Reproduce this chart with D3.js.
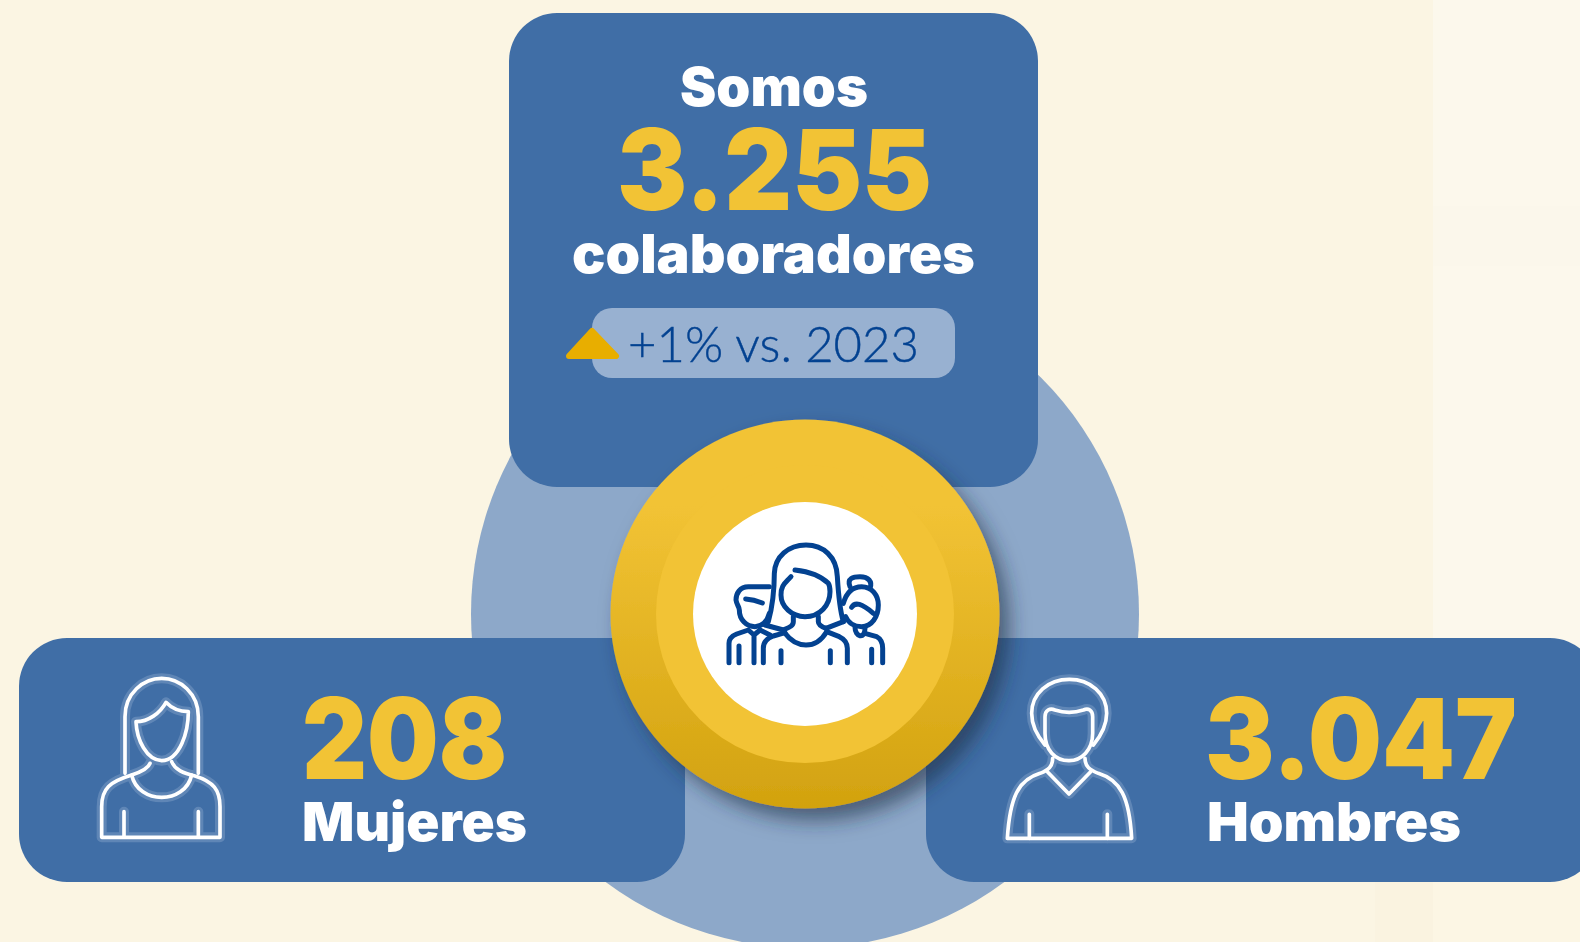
<!DOCTYPE html>
<html>
<head>
<meta charset="utf-8">
<script src="https://cdn.jsdelivr.net/npm/d3@7"></script>
<style>
  html, body { margin: 0; padding: 0; background: #FBF5E3; overflow: hidden; }
</style>
</head>
<body>
<div id="chart"></div>
<script>
const totalIntro = "Somos";
const totalValue = "3.255";
const totalUnit = "colaboradores";
const changeLabel = "+1% vs. 2023";
const genderLabels = ["Mujeres", "Hombres"];
const genderValues = ["208", "3.047"];

const width = 1580, height = 942;
const blue = "#406EA6", yellow = "#F2C335", navy = "#034291";

const svg = d3.select("#chart").append("svg")
    .attr("width", width)
    .attr("height", height)
    .style("display", "block");

const defs = svg.append("defs");

const goldOuter = defs.append("linearGradient").attr("id", "goldOuter")
    .attr("x1", 0).attr("y1", 0).attr("x2", 0).attr("y2", 1);
goldOuter.append("stop").attr("offset", "22%").attr("stop-color", "#F2C335");
goldOuter.append("stop").attr("offset", "100%").attr("stop-color", "#D2A20F");

const shadow = defs.append("filter").attr("id", "shadow")
    .attr("x", "-30%").attr("y", "-30%").attr("width", "160%").attr("height", "160%");
shadow.append("feDropShadow")
    .attr("dx", 10).attr("dy", 12).attr("stdDeviation", 10)
    .attr("flood-color", "#1d2b40").attr("flood-opacity", 0.6);

// faint paper patches on the right
svg.append("rect").attr("x", 1433).attr("y", 0).attr("width", 147).attr("height", 942).attr("fill", "#FCF8EC");
svg.append("rect").attr("x", 1433).attr("y", 206).attr("width", 147).attr("height", 60).attr("fill", "#FBF7EB");
svg.append("rect").attr("x", 1375).attr("y", 860).attr("width", 58).attr("height", 82).attr("fill", "#FAF3E0");
svg.append("rect").attr("x", 1433).attr("y", 860).attr("width", 147).attr("height", 82).attr("fill", "#FCF6E4");

// background disc
svg.append("circle").attr("cx", 805).attr("cy", 614).attr("r", 334).attr("fill", "#8DA8C9");

// cards
const cards = [
    { x: 509, y: 13, w: 529, h: 474 },
    { x: 19, y: 638, w: 666, h: 244 },
    { x: 926, y: 638, w: 672, h: 244 }
];
svg.selectAll("rect.card").data(cards).enter().append("rect")
    .attr("class", "card")
    .attr("x", d => d.x).attr("y", d => d.y)
    .attr("width", d => d.w).attr("height", d => d.h)
    .attr("rx", 48).attr("fill", blue);

// gold medallion
svg.append("circle").attr("cx", 805).attr("cy", 614).attr("r", 194.5)
    .attr("fill", "url(#goldOuter)").attr("filter", "url(#shadow)");
svg.append("circle").attr("cx", 805).attr("cy", 614).attr("r", 149).attr("fill", yellow);
svg.append("circle").attr("cx", 805).attr("cy", 614).attr("r", 112).attr("fill", "#fff");

function bigText(str, x, y, size, fill, w) {
    return svg.append("text").attr("x", x).attr("y", y)
        .attr("font-family", "Inter, sans-serif")
        .attr("font-size", size).attr("font-weight", 900)
        .attr("fill", fill)
        .attr("textLength", w).attr("lengthAdjust", "spacingAndGlyphs")
        .text(str);
}

bigText(totalIntro, 680, 106, 54, "#fff", 188);
bigText(totalValue, 617, 210, 112, yellow, 315);
bigText(totalUnit, 572, 273, 54, "#fff", 403);

// change pill
svg.append("rect").attr("x", 592).attr("y", 308).attr("width", 363).attr("height", 70)
    .attr("rx", 20).attr("fill", "#98B1D1");
svg.append("path").attr("d", "M569 356 L592 331 L616 356 Z")
    .attr("fill", "#E8AE00").attr("stroke", "#E8AE00")
    .attr("stroke-width", 6).attr("stroke-linejoin", "round");
svg.append("text").attr("x", 628).attr("y", 362)
    .attr("font-family", "Lato, sans-serif")
    .attr("font-size", 49).attr("font-weight", 300).attr("fill", navy)
    .attr("stroke", navy).attr("stroke-width", 0.4)
    .attr("textLength", 291).attr("lengthAdjust", "spacingAndGlyphs")
    .text(changeLabel);

bigText(genderValues[0], 302, 779, 112, yellow, 205);
bigText(genderLabels[0], 302, 841, 54, "#fff", 225);
bigText(genderValues[1], 1205, 779, 112, yellow, 312);
bigText(genderLabels[1], 1207, 841, 54, "#fff", 254);

// icons, traced in crop coordinates (3x)
const womanIcon = [
    "M135 340V170C135 100 190 55 245 55C300 55 355 100 355 170V340",
    "M168 185C205 185 240 160 258 127C275 145 300 155 325 155C325 215 300 300 245 302C200 300 170 240 168 185Z",
    "M210 310C205 325 185 335 155 345C90 365 65 385 65 440V532H420V440C420 390 400 365 345 348C310 340 285 330 275 305",
    "M155 345C165 390 205 412 245 412C285 412 325 390 335 345",
    "M132 455V530M355 455V530"
];
const manIcon = [
    "M165 255C135 220 125 190 125 160C125 100 175 58 238 58C300 58 350 100 350 160C350 195 335 225 310 255",
    "M165 170C165 150 180 143 195 150C225 160 250 160 280 150C295 143 308 150 308 170V220C308 270 275 302 237 302C195 302 165 270 165 220Z",
    "M188 295C188 320 175 330 150 340C85 360 60 410 52 535H425C418 410 390 360 325 340C300 330 285 320 285 295",
    "M172 335L237 402L302 335",
    "M118 463V535M352 463V535"
];
const groupIcon = [
    "M265 305C280 250 283 200 283 160C285 110 325 75 378 75C430 75 470 110 472 170C475 220 478 265 490 305",
    "M333 170C315 190 303 195 303 225C303 260 335 290 375 290C420 290 450 255 450 215C450 205 448 195 445 190C425 170 390 155 345 150",
    "M340 290V305C340 318 328 322 310 330M415 290V305C415 315 425 320 438 325L490 305",
    "M315 340C330 360 350 375 378 375C405 375 425 360 440 335",
    "M250 428V385C250 365 260 355 280 348L315 338M440 335L478 350C495 358 502 370 502 385V428",
    "M303 392V428M451 392V428",
    "M268 200H205C180 200 168 220 168 240C170 255 178 260 178 270C178 300 200 320 225 320C245 320 262 305 268 280",
    "M197 237C215 238 230 242 247 249",
    "M147 428V370C147 355 155 348 170 342L205 330L222 345L240 330M222 345V428M177 378V428",
    "M255 315L310 330M240 330L270 345",
    "M510 200C500 175 520 170 540 170C565 170 578 185 570 205",
    "M490 250C500 215 520 200 545 200C575 200 595 225 595 255C595 290 575 320 545 320C525 320 505 310 497 290",
    "M515 262C525 245 545 250 580 280",
    "M525 322C525 350 555 360 555 325",
    "M555 340L590 350C605 358 608 370 608 385V428M575 388V428"
];

function drawIcon(paths, x, y, color, sw, halo) {
    const g = svg.append("g").attr("transform", `translate(${x},${y}) scale(${1 / 3})`)
        .attr("fill", "none").attr("stroke-linecap", "round").attr("stroke-linejoin", "round");
    if (halo) {
        g.selectAll("path.halo").data(paths).enter().append("path")
            .attr("class", "halo").attr("d", d => d)
            .attr("stroke", "#5F86B6").attr("stroke-width", 30);
    }
    g.selectAll("path.line").data(paths).enter().append("path")
        .attr("class", "line").attr("d", d => d)
        .attr("stroke", color).attr("stroke-width", sw);
}
drawIcon(womanIcon, 80, 660, "#fff", 11, true);
drawIcon(manIcon, 990, 660, "#fff", 11, true);
drawIcon(groupIcon, 680, 520, navy, 15, false);
</script>
</body>
</html>
